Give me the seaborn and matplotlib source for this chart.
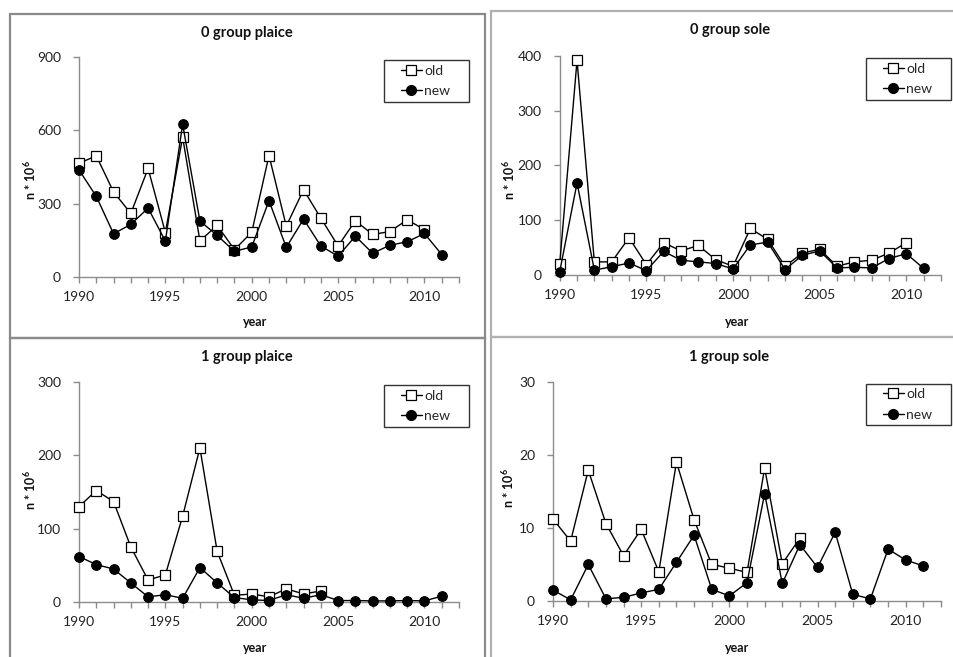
import matplotlib
matplotlib.use("Agg")
import matplotlib.pyplot as plt
from matplotlib.patches import Rectangle
from matplotlib.lines import Line2D
import seaborn as sns
import pandas as pd
import numpy as np

sns.set_style("white")
plt.rcParams['font.family'] = ['Lato', 'DejaVu Sans']
plt.rcParams['mathtext.fontset'] = 'custom'
plt.rcParams['mathtext.rm'] = 'Lato'
plt.rcParams['mathtext.bf'] = 'Lato:bold'

years = [1990, 1991, 1992, 1993, 1994, 1995, 1996, 1997, 1998, 1999, 2000,
         2001, 2002, 2003, 2004, 2005, 2006, 2007, 2008, 2009, 2010, 2011]

titles = ["0 group plaice", "0 group sole", "1 group plaice", "1 group sole"]

# 0 group plaice
p0_old = [465, 496, 348, 260, 444, 182, 572, 148, 211, 112, 183,
          497, 208, 357, 241, 127, 230, 174, 186, 234, 194]
p0_new = [438, 330, 177, 215, 282, 147, 625, 229, 170, 105, 123,
          312, 121, 237, 127, 85, 167, 97, 130, 144, 178, 92]
# 0 group sole
s0_old = [20, 392, 24, 24, 68, 19, 59, 44, 54, 28, 16,
          85, 65, 16, 40, 47, 16, 24, 27, 40, 59]
s0_new = [6, 168, 9, 15, 22, 8, 43, 27, 24, 21, 11,
          55, 60, 10, 36, 44, 13, 14, 13, 30, 39, 12]
# 1 group plaice
p1_old = [130, 152, 137, 75, 30, 37, 117, 210, 69, 9, 11, 7, 18, 11, 15]
p1_new = [62, 51, 45, 26, 7, 10, 5, 47, 26, 6, 3,
          2, 10, 5, 10, 2, 2, 1.5, 1.5, 2, 1.5, 8]
# 1 group sole
s1_old = [11.2, 8.2, 17.9, 10.6, 6.2, 9.8, 4.0, 19.0, 11.1, 5.0, 4.5, 3.9, 18.2, 5.1, 8.6]
s1_new = [1.5, 0.15, 5.0, 0.3, 0.5, 1.1, 1.6, 5.3, 9.0, 1.6, 0.7,
          2.5, 14.7, 2.4, 7.7, 4.6, 9.4, 0.9, 0.3, 7.1, 5.6, 4.8]

olds = [p0_old, s0_old, p1_old, s1_old]
news = [p0_new, s0_new, p1_new, s1_new]
ymaxes = [900, 400, 300, 30]
ysteps = [300, 100, 100, 10]

W, H = 954, 657
fig = plt.figure(figsize=(W / 100, H / 100), dpi=100)

def fx(px):
    return px / W

def fy(py):
    return 1 - py / H

# panel boxes (pixel coords: x0, y0, x1, y1)
boxes = [((10, 13.5, 485, 338), '#8a8a8a'),
         ((491, 11, 962, 336.5), '#b0b0b0'),
         ((10, 338, 485, 665), '#8a8a8a'),
         ((491, 336.5, 962, 665), '#b0b0b0')]
for (x0, y0, x1, y1), c in boxes:
    fig.add_artist(Rectangle((fx(x0), fy(y1)), fx(x1) - fx(x0), fy(y0) - fy(y1),
                             transform=fig.transFigure, fill=False,
                             edgecolor=c, linewidth=1.6))

# axes rectangles in pixels: left, right(2012), top, bottom(0)
axpos = [(79, 459, 57, 277), (559.7, 941, 56, 275),
         (79, 459, 382, 602), (553, 941, 381.7, 601)]
title_pos = [(247, 33), (730, 30), (247, 357), (729, 357)]
year_pos = [(255, 322), (737, 322), (255, 648), (737, 648)]
ylab_pos = [(30, 180), (509, 180), (30, 490), (508, 488)]
leg_box = [(384, 60, 469, 102), (866, 58, 951, 100),
           (384, 385, 469, 427), (866, 384, 951, 425)]

spine_c = '#8c8c8c'
for i in range(4):
    l, r, t, b = axpos[i]
    ax = fig.add_axes([fx(l), fy(b), fx(r) - fx(l), fy(t) - fy(b)])
    old = olds[i]
    new = news[i]
    sns.lineplot(x=years[:len(old)], y=old, ax=ax, color='black', linewidth=1,
                 marker='s', markersize=6.6, markerfacecolor='white',
                 markeredgecolor='black', markeredgewidth=0.9, zorder=3, clip_on=False)
    sns.lineplot(x=years[:len(new)], y=new, ax=ax, color='black', linewidth=1,
                 marker='o', markersize=7, markerfacecolor='black',
                 markeredgecolor='black', zorder=4, clip_on=False)
    ax.set_xlim(1990, 2012)
    ax.set_ylim(0, ymaxes[i])
    ax.set_yticks(np.arange(0, ymaxes[i] + 1, ysteps[i]))
    ax.set_xticks([1990, 1995, 2000, 2005, 2010])
    ax.set_xticks(np.arange(1990, 2013, 1), minor=True)
    ax.tick_params(axis='both', which='major', direction='out', length=4,
                   width=1, color=spine_c, labelsize=10, labelcolor='#222222', pad=5)
    ax.tick_params(axis='x', which='minor', direction='out', length=4,
                   width=1, color=spine_c, bottom=True)
    ax.tick_params(axis='x', which='major', bottom=True, pad=6)
    ax.tick_params(axis='y', which='major', left=True, pad=9)
    for s in ['top', 'right']:
        ax.spines[s].set_visible(False)
    for s in ['left', 'bottom']:
        ax.spines[s].set_color(spine_c)
        ax.spines[s].set_linewidth(1)
    ax.set_xlabel('')
    ax.set_ylabel('')
    ax.patch.set_alpha(0)
    for lab in ax.get_xticklabels() + ax.get_yticklabels():
        lab.set_color('#222222')

    tx, ty = title_pos[i]
    fig.text(fx(tx), fy(ty), titles[i], ha='center', va='center',
             fontsize=10.5, fontweight='bold', color='#111111')
    yx, yy = year_pos[i]
    fig.text(fx(yx), fy(yy), 'year', ha='center', va='center',
             fontsize=9, fontweight='bold', color='#111111')
    lx, ly = ylab_pos[i]
    fig.text(fx(lx), fy(ly), r'n * 10$^{\mathbf{6}}$', ha='center', va='center',
             rotation=90, fontsize=9, fontweight='bold', color='#111111')

    # legend frame
    x0, y0, x1, y1 = leg_box[i]
    fig.add_artist(Rectangle((fx(x0), fy(y1)), fx(x1) - fx(x0), fy(y0) - fy(y1),
                             transform=fig.transFigure, fill=True, facecolor='white',
                             edgecolor='#333333', linewidth=1, zorder=10))
    handles = [Line2D([], [], color='black', linewidth=1, marker='s', markersize=6.6,
                      markerfacecolor='white', markeredgecolor='black', markeredgewidth=0.9),
               Line2D([], [], color='black', linewidth=1, marker='o', markersize=7,
                      markerfacecolor='black')]
    leg = fig.legend(handles, ['old', 'new'], loc='center left',
                     bbox_to_anchor=(fx(x0 + 17), fy((y0 + y1) / 2)),
                     bbox_transform=fig.transFigure, frameon=False,
                     fontsize=10, handlelength=1.5, handletextpad=0.15,
                     labelspacing=0.6, borderpad=0, borderaxespad=0)
    leg.set_zorder(11)

fig.savefig('out.png', dpi=100)
